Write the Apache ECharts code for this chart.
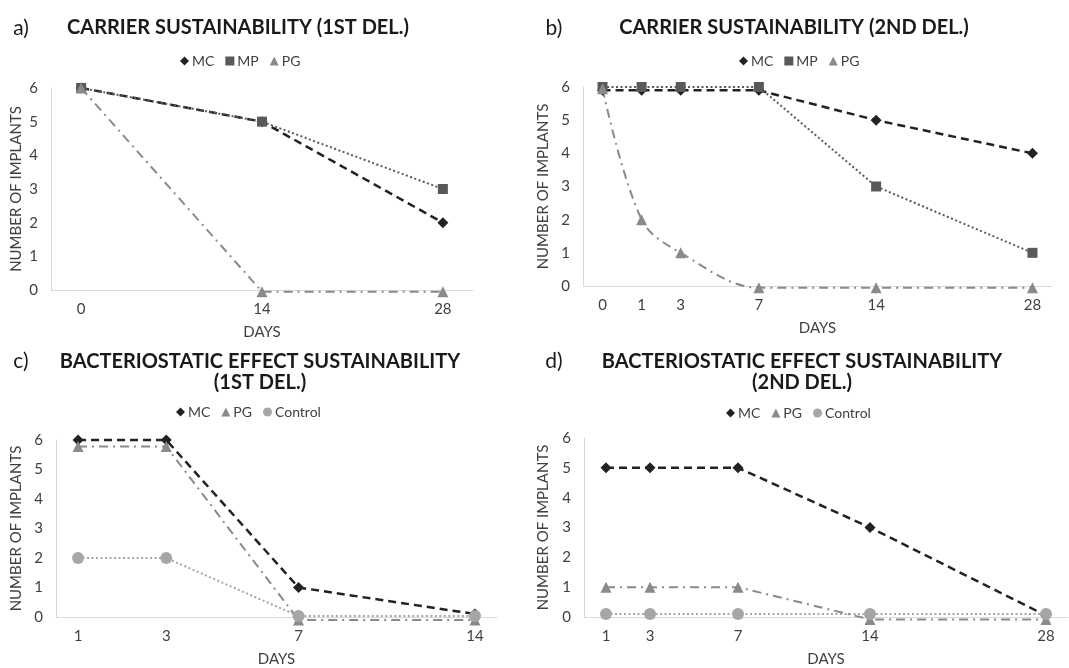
<!DOCTYPE html>
<html>
<head>
<meta charset="utf-8">
<script src="https://cdn.jsdelivr.net/npm/echarts@6/dist/echarts.min.js"></script>
<style>
html,body{margin:0;padding:0;background:#fff;}
#chart{width:1069px;height:668px;}
</style>
</head>
<body>
<div id="chart"></div>
<script>
// ---------- DATA ----------
// Blank categories are empty day slots on the original (non-uniform) axis.
const catsA = ['0','','','14','','','28'];
const aMC = [6, null, null, 5, null, null, 2];
const aMP = [6, null, null, 5, null, null, 3];
const aPG = [6, null, null, -0.05, null, null, -0.05];

const catsB = ['0','1','3','','7','','','14','','','','28'];
const bMC = [5.9, 5.9, 5.9, null, 5.9, null, null, 5, null, null, null, 4];
const bMP = [6, 6, 6, null, 6, null, null, 3, null, null, null, 1];
const bPG = [5.95, 2, 1, null, -0.05, null, null, -0.05, null, null, null, -0.05];

const catsC = ['1','','3','','','7','','','','14'];
const cMC = [6, null, 6, null, null, 1, null, null, null, 0.1];
const cPG = [5.78, null, 5.78, null, null, -0.1, null, null, null, -0.1];
const cControl = [2, null, 2, null, null, 0.03, null, null, null, 0.03];

const catsD = ['1','3','','7','','','14','','','','28'];
const dMC = [5, 5, null, 5, null, null, 3, null, null, null, 0.05];
const dPG = [1, 1, null, 1, null, null, -0.08, null, null, null, -0.08];
const dControl = [0.1, 0.1, null, 0.1, null, null, 0.1, null, null, null, 0.1];

const yTicks = [0, 6, 1]; // min, max, interval

const titles = [
  'CARRIER SUSTAINABILITY (1ST DEL.)',
  'CARRIER SUSTAINABILITY (2ND DEL.)',
  'BACTERIOSTATIC EFFECT SUSTAINABILITY\n(1ST DEL.)',
  'BACTERIOSTATIC EFFECT SUSTAINABILITY\n(2ND DEL.)'
];
const panelLetters = ['a)', 'b)', 'c)', 'd)'];
const xName = 'DAYS';
const yName = 'NUMBER OF IMPLANTS';

// ---------- STYLE ----------
const FONT = 'Lato';
const txt = '#404040';
const axisCol = '#d9d9d9';
const styles = {
  MC: {color: '#222222', type: [8, 5], width: 2.5, symbol: 'diamond', size: 11},
  MP: {color: '#595959', type: [2, 2.5], width: 2, symbol: 'rect', size: 10},
  PG: {color: '#8a8a8a', type: [9, 5, 2, 5], width: 2, symbol: 'triangle', size: 11},
  Control: {color: '#a6a6a6', type: [2, 2.5], width: 2, symbol: 'circle', size: 12}
};

const grids = [
  {left: 51, top: 88, width: 422, height: 202},
  {left: 583, top: 87, width: 469, height: 199},
  {left: 56, top: 440, width: 441, height: 177},
  {left: 584, top: 438, width: 484, height: 181}
];
const yNameGaps = [27, 32, 32, 33];
const cats = [catsA, catsB, catsC, catsD];

const xAxes = cats.map((c, i) => ({
  type: 'category', gridIndex: i, data: c, boundaryGap: true,
  axisLine: {lineStyle: {color: axisCol, width: 1}},
  axisTick: {show: false},
  axisLabel: {interval: 0, color: txt, fontFamily: FONT, fontSize: 15, margin: 12},
  name: xName, nameLocation: 'middle', nameGap: 35,
  nameTextStyle: {color: txt, fontFamily: FONT, fontSize: 15}
}));
const yAxes = grids.map((g, i) => ({
  type: 'value', gridIndex: i, min: yTicks[0], max: yTicks[1], interval: yTicks[2],
  splitLine: {show: false},
  axisLine: {show: true, lineStyle: {color: axisCol, width: 1}},
  axisTick: {show: false},
  axisLabel: {color: txt, fontFamily: FONT, fontSize: 15, margin: 13},
  name: yName, nameLocation: 'middle', nameRotate: 90, nameGap: yNameGaps[i],
  nameTextStyle: {color: txt, fontFamily: FONT, fontSize: 15}
}));

function mk(name, data, idx, extra) {
  const s = styles[name];
  return Object.assign({
    type: 'line', name: name, xAxisIndex: idx, yAxisIndex: idx,
    data: data, connectNulls: true, clip: false,
    symbol: s.symbol, symbolSize: s.size, showSymbol: true,
    itemStyle: {color: s.color},
    lineStyle: {color: s.color, type: s.type, width: s.width},
    emphasis: {disabled: true}, animation: false
  }, extra || {});
}

const series = [
  mk('MC', aMC, 0), mk('MP', aMP, 0), mk('PG', aPG, 0),
  mk('MC', bMC, 1), mk('MP', bMP, 1), mk('PG', bPG, 1, {smooth: 0.35}),
  mk('MC', cMC, 2), mk('PG', cPG, 2), mk('Control', cControl, 2),
  mk('MC', dMC, 3), mk('PG', dPG, 3), mk('Control', dControl, 3)
];

function legend(names, left, top) {
  return {
    left: left, top: top, itemWidth: 9, itemHeight: 9, itemGap: 11,
    selectedMode: false,
    data: names.map(n => ({name: n, icon: styles[n].symbol})),
    textStyle: {color: txt, fontFamily: FONT, fontSize: 14, padding: [0, 0, 0, -2]}
  };
}

const titlePos = [[238, 28], [794, 28], [260, 372], [802, 372]];
const letterPos = [[21, 28], [554, 28], [21, 361], [554, 361]];
const graphics = [];
titles.forEach((t, i) => {
  graphics.push({type: 'text', x: titlePos[i][0], y: titlePos[i][1],
    style: {text: t, align: 'center', verticalAlign: 'middle', fill: '#1a1a1a',
      font: 'bold 20px Lato', lineHeight: 21}});
  graphics.push({type: 'text', x: letterPos[i][0], y: letterPos[i][1],
    style: {text: panelLetters[i], align: 'center', verticalAlign: 'middle', fill: '#1a1a1a',
      font: '21px Lato'}});
});

const option = {
  backgroundColor: '#fff',
  animation: false,
  grid: grids,
  xAxis: xAxes,
  yAxis: yAxes,
  legend: [
    legend(['MC', 'MP', 'PG'], 175, 49),
    legend(['MC', 'MP', 'PG'], 734, 49),
    legend(['MC', 'PG', 'Control'], 171, 400),
    legend(['MC', 'PG', 'Control'], 721, 401)
  ],
  graphic: graphics,
  series: series
};
const chart = echarts.init(document.getElementById('chart'), null, {renderer: 'canvas'});
chart.setOption(option);
</script>
</body>
</html>
